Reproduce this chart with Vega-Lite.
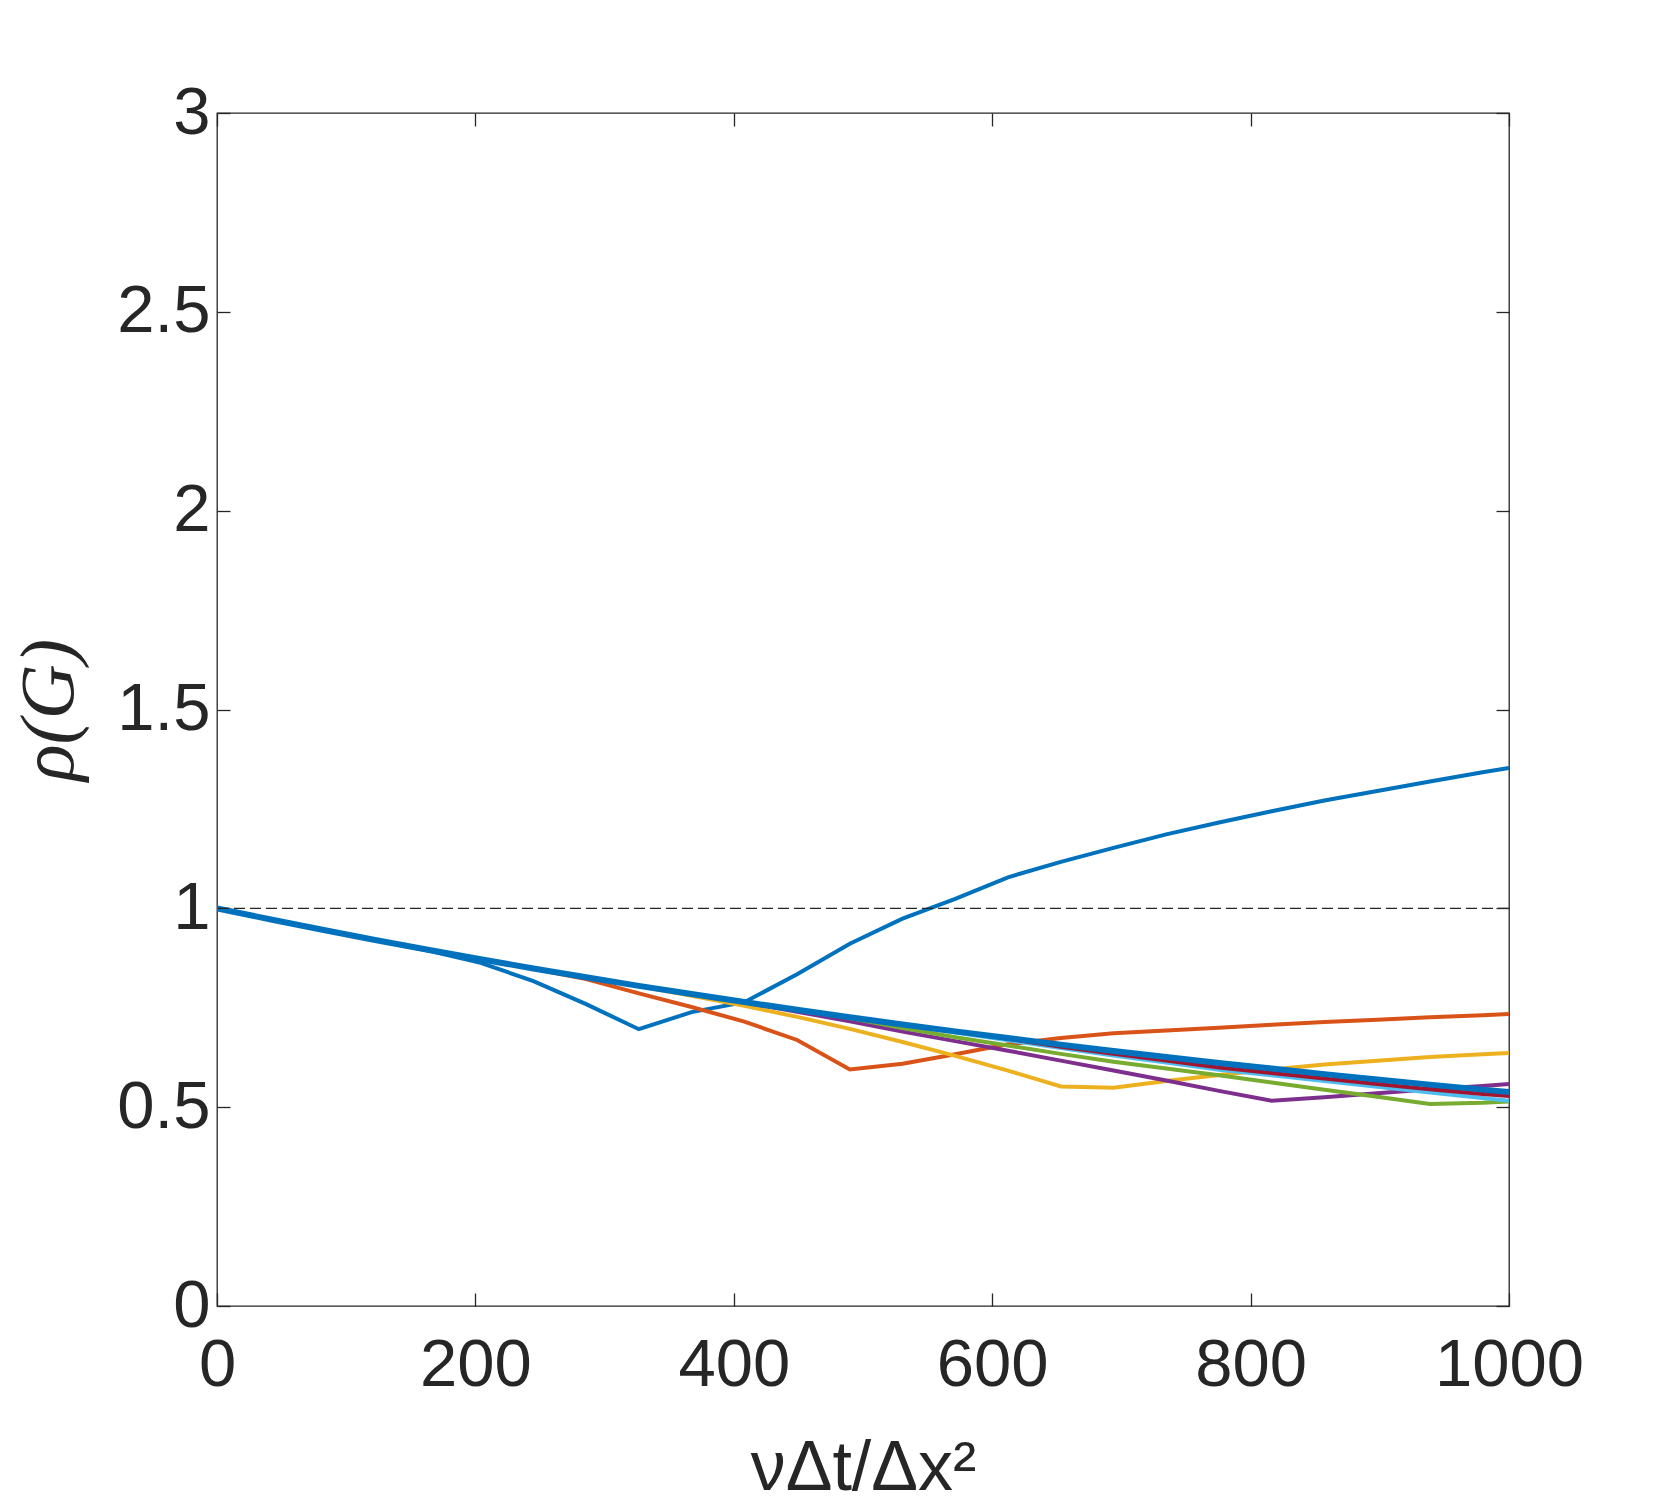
{
  "$schema": "https://vega.github.io/schema/vega-lite/v6.json",
  "autosize": "none",
  "width": 1292,
  "height": 1193,
  "padding": {"left": 217, "top": 113, "right": 158, "bottom": 206},
  "background": "white",
  "data": {
    "values": [
      {"s": "s1", "x": 0, "y": 1}, {"s": "s1", "x": 40.8, "y": 0.9725}, {"s": "s1", "x": 81.6, "y": 0.946}, {"s": "s1", "x": 122.4, "y": 0.9205},
      {"s": "s1", "x": 163.3, "y": 0.894}, {"s": "s1", "x": 204.1, "y": 0.863}, {"s": "s1", "x": 244.9, "y": 0.817}, {"s": "s1", "x": 285.7, "y": 0.759},
      {"s": "s1", "x": 326.5, "y": 0.696}, {"s": "s1", "x": 367.3, "y": 0.739}, {"s": "s1", "x": 408.2, "y": 0.764}, {"s": "s1", "x": 449, "y": 0.834},
      {"s": "s1", "x": 489.8, "y": 0.911}, {"s": "s1", "x": 530.6, "y": 0.974}, {"s": "s1", "x": 571.4, "y": 1.024}, {"s": "s1", "x": 612.2, "y": 1.078},
      {"s": "s1", "x": 653.1, "y": 1.117}, {"s": "s1", "x": 693.9, "y": 1.152}, {"s": "s1", "x": 734.7, "y": 1.186}, {"s": "s1", "x": 775.5, "y": 1.216},
      {"s": "s1", "x": 816.3, "y": 1.244}, {"s": "s1", "x": 857.1, "y": 1.271}, {"s": "s1", "x": 898, "y": 1.295}, {"s": "s1", "x": 938.8, "y": 1.319},
      {"s": "s1", "x": 979.6, "y": 1.342}, {"s": "s1", "x": 1000, "y": 1.353},

      {"s": "s2", "x": 0, "y": 1}, {"s": "s2", "x": 40.8, "y": 0.9725}, {"s": "s2", "x": 81.6, "y": 0.946}, {"s": "s2", "x": 122.4, "y": 0.9205},
      {"s": "s2", "x": 163.3, "y": 0.8957}, {"s": "s2", "x": 204.1, "y": 0.8715}, {"s": "s2", "x": 244.9, "y": 0.848}, {"s": "s2", "x": 285.7, "y": 0.822},
      {"s": "s2", "x": 326.5, "y": 0.786}, {"s": "s2", "x": 367.3, "y": 0.752}, {"s": "s2", "x": 408.2, "y": 0.715}, {"s": "s2", "x": 449, "y": 0.669},
      {"s": "s2", "x": 489.8, "y": 0.595}, {"s": "s2", "x": 530.6, "y": 0.609}, {"s": "s2", "x": 571.4, "y": 0.633}, {"s": "s2", "x": 612.2, "y": 0.658},
      {"s": "s2", "x": 653.1, "y": 0.674}, {"s": "s2", "x": 693.9, "y": 0.686}, {"s": "s2", "x": 734.7, "y": 0.693}, {"s": "s2", "x": 775.5, "y": 0.7},
      {"s": "s2", "x": 816.3, "y": 0.707}, {"s": "s2", "x": 857.1, "y": 0.714}, {"s": "s2", "x": 898, "y": 0.72}, {"s": "s2", "x": 938.8, "y": 0.726},
      {"s": "s2", "x": 979.6, "y": 0.731}, {"s": "s2", "x": 1000, "y": 0.734},

      {"s": "s3", "x": 0, "y": 1}, {"s": "s3", "x": 40.8, "y": 0.9725}, {"s": "s3", "x": 81.6, "y": 0.946}, {"s": "s3", "x": 122.4, "y": 0.9205},
      {"s": "s3", "x": 163.3, "y": 0.8957}, {"s": "s3", "x": 204.1, "y": 0.8719}, {"s": "s3", "x": 244.9, "y": 0.8488}, {"s": "s3", "x": 285.7, "y": 0.8266},
      {"s": "s3", "x": 326.5, "y": 0.8045}, {"s": "s3", "x": 367.3, "y": 0.78}, {"s": "s3", "x": 408.2, "y": 0.755}, {"s": "s3", "x": 449, "y": 0.727},
      {"s": "s3", "x": 489.8, "y": 0.697}, {"s": "s3", "x": 530.6, "y": 0.664}, {"s": "s3", "x": 571.4, "y": 0.629}, {"s": "s3", "x": 612.2, "y": 0.592},
      {"s": "s3", "x": 653.1, "y": 0.552}, {"s": "s3", "x": 693.9, "y": 0.549}, {"s": "s3", "x": 734.7, "y": 0.566}, {"s": "s3", "x": 775.5, "y": 0.581},
      {"s": "s3", "x": 816.3, "y": 0.595}, {"s": "s3", "x": 857.1, "y": 0.607}, {"s": "s3", "x": 898, "y": 0.617}, {"s": "s3", "x": 938.8, "y": 0.626},
      {"s": "s3", "x": 979.6, "y": 0.633}, {"s": "s3", "x": 1000, "y": 0.636},

      {"s": "s4", "x": 0, "y": 1}, {"s": "s4", "x": 40.8, "y": 0.9725}, {"s": "s4", "x": 81.6, "y": 0.946}, {"s": "s4", "x": 122.4, "y": 0.9205},
      {"s": "s4", "x": 163.3, "y": 0.8957}, {"s": "s4", "x": 204.1, "y": 0.8719}, {"s": "s4", "x": 244.9, "y": 0.8488}, {"s": "s4", "x": 285.7, "y": 0.8266},
      {"s": "s4", "x": 326.5, "y": 0.8051}, {"s": "s4", "x": 367.3, "y": 0.7844}, {"s": "s4", "x": 408.2, "y": 0.7635}, {"s": "s4", "x": 449, "y": 0.74},
      {"s": "s4", "x": 489.8, "y": 0.716}, {"s": "s4", "x": 530.6, "y": 0.69}, {"s": "s4", "x": 571.4, "y": 0.666}, {"s": "s4", "x": 612.2, "y": 0.642},
      {"s": "s4", "x": 653.1, "y": 0.617}, {"s": "s4", "x": 693.9, "y": 0.592}, {"s": "s4", "x": 734.7, "y": 0.567}, {"s": "s4", "x": 775.5, "y": 0.541},
      {"s": "s4", "x": 816.3, "y": 0.516}, {"s": "s4", "x": 857.1, "y": 0.525}, {"s": "s4", "x": 898, "y": 0.535}, {"s": "s4", "x": 938.8, "y": 0.545},
      {"s": "s4", "x": 979.6, "y": 0.553}, {"s": "s4", "x": 1000, "y": 0.558},

      {"s": "s5", "x": 0, "y": 1}, {"s": "s5", "x": 40.8, "y": 0.9725}, {"s": "s5", "x": 81.6, "y": 0.946}, {"s": "s5", "x": 122.4, "y": 0.9205},
      {"s": "s5", "x": 163.3, "y": 0.8957}, {"s": "s5", "x": 204.1, "y": 0.8719}, {"s": "s5", "x": 244.9, "y": 0.8488}, {"s": "s5", "x": 285.7, "y": 0.8266},
      {"s": "s5", "x": 326.5, "y": 0.8051}, {"s": "s5", "x": 367.3, "y": 0.7844}, {"s": "s5", "x": 408.2, "y": 0.7643}, {"s": "s5", "x": 449, "y": 0.7445},
      {"s": "s5", "x": 489.8, "y": 0.724}, {"s": "s5", "x": 530.6, "y": 0.699}, {"s": "s5", "x": 571.4, "y": 0.676}, {"s": "s5", "x": 612.2, "y": 0.655},
      {"s": "s5", "x": 653.1, "y": 0.634}, {"s": "s5", "x": 693.9, "y": 0.614}, {"s": "s5", "x": 734.7, "y": 0.597}, {"s": "s5", "x": 775.5, "y": 0.58},
      {"s": "s5", "x": 816.3, "y": 0.562}, {"s": "s5", "x": 857.1, "y": 0.544}, {"s": "s5", "x": 898, "y": 0.526}, {"s": "s5", "x": 938.8, "y": 0.508},
      {"s": "s5", "x": 979.6, "y": 0.511}, {"s": "s5", "x": 1000, "y": 0.514},

      {"s": "s6", "x": 0, "y": 1}, {"s": "s6", "x": 40.8, "y": 0.9725}, {"s": "s6", "x": 81.6, "y": 0.946}, {"s": "s6", "x": 122.4, "y": 0.9205},
      {"s": "s6", "x": 163.3, "y": 0.8957}, {"s": "s6", "x": 204.1, "y": 0.8719}, {"s": "s6", "x": 244.9, "y": 0.8488}, {"s": "s6", "x": 285.7, "y": 0.8266},
      {"s": "s6", "x": 326.5, "y": 0.8051}, {"s": "s6", "x": 367.3, "y": 0.7844}, {"s": "s6", "x": 408.2, "y": 0.7643}, {"s": "s6", "x": 449, "y": 0.7449},
      {"s": "s6", "x": 489.8, "y": 0.7262}, {"s": "s6", "x": 530.6, "y": 0.7075}, {"s": "s6", "x": 571.4, "y": 0.688}, {"s": "s6", "x": 612.2, "y": 0.668},
      {"s": "s6", "x": 653.1, "y": 0.649}, {"s": "s6", "x": 693.9, "y": 0.63}, {"s": "s6", "x": 734.7, "y": 0.612}, {"s": "s6", "x": 775.5, "y": 0.594},
      {"s": "s6", "x": 816.3, "y": 0.58}, {"s": "s6", "x": 857.1, "y": 0.566}, {"s": "s6", "x": 898, "y": 0.551}, {"s": "s6", "x": 938.8, "y": 0.537},
      {"s": "s6", "x": 979.6, "y": 0.523}, {"s": "s6", "x": 1000, "y": 0.516},

      {"s": "s7", "x": 0, "y": 1}, {"s": "s7", "x": 40.8, "y": 0.9725}, {"s": "s7", "x": 81.6, "y": 0.946}, {"s": "s7", "x": 122.4, "y": 0.9205},
      {"s": "s7", "x": 163.3, "y": 0.8957}, {"s": "s7", "x": 204.1, "y": 0.8719}, {"s": "s7", "x": 244.9, "y": 0.8488}, {"s": "s7", "x": 285.7, "y": 0.8266},
      {"s": "s7", "x": 326.5, "y": 0.8051}, {"s": "s7", "x": 367.3, "y": 0.7844}, {"s": "s7", "x": 408.2, "y": 0.7643}, {"s": "s7", "x": 449, "y": 0.7449},
      {"s": "s7", "x": 489.8, "y": 0.7262}, {"s": "s7", "x": 530.6, "y": 0.7081}, {"s": "s7", "x": 571.4, "y": 0.69}, {"s": "s7", "x": 612.2, "y": 0.672},
      {"s": "s7", "x": 653.1, "y": 0.652}, {"s": "s7", "x": 693.9, "y": 0.634}, {"s": "s7", "x": 734.7, "y": 0.617}, {"s": "s7", "x": 775.5, "y": 0.6},
      {"s": "s7", "x": 816.3, "y": 0.586}, {"s": "s7", "x": 857.1, "y": 0.572}, {"s": "s7", "x": 898, "y": 0.558}, {"s": "s7", "x": 938.8, "y": 0.545},
      {"s": "s7", "x": 979.6, "y": 0.533}, {"s": "s7", "x": 1000, "y": 0.528},

      {"s": "s8", "x": 0, "y": 1}, {"s": "s8", "x": 40.8, "y": 0.9725}, {"s": "s8", "x": 81.6, "y": 0.946}, {"s": "s8", "x": 122.4, "y": 0.9205},
      {"s": "s8", "x": 163.3, "y": 0.8957}, {"s": "s8", "x": 204.1, "y": 0.8719}, {"s": "s8", "x": 244.9, "y": 0.8488}, {"s": "s8", "x": 285.7, "y": 0.8266},
      {"s": "s8", "x": 326.5, "y": 0.8051}, {"s": "s8", "x": 367.3, "y": 0.7844}, {"s": "s8", "x": 408.2, "y": 0.7643}, {"s": "s8", "x": 449, "y": 0.7449},
      {"s": "s8", "x": 489.8, "y": 0.7262}, {"s": "s8", "x": 530.6, "y": 0.7081}, {"s": "s8", "x": 571.4, "y": 0.6906}, {"s": "s8", "x": 612.2, "y": 0.6737},
      {"s": "s8", "x": 653.1, "y": 0.6573}, {"s": "s8", "x": 693.9, "y": 0.6414}, {"s": "s8", "x": 734.7, "y": 0.6261}, {"s": "s8", "x": 775.5, "y": 0.6113},
      {"s": "s8", "x": 816.3, "y": 0.597}, {"s": "s8", "x": 857.1, "y": 0.5831}, {"s": "s8", "x": 898, "y": 0.5697}, {"s": "s8", "x": 938.8, "y": 0.5567},
      {"s": "s8", "x": 979.6, "y": 0.5441}, {"s": "s8", "x": 1000, "y": 0.5379}
    ]
  },
  "layer": [
    {
      "transform": [{"filter": "datum.s != 's8'"}],
      "mark": {"type": "line", "strokeWidth": 4, "clip": true},
      "encoding": {
        "x": {
          "field": "x", "type": "quantitative",
          "scale": {"domain": [0, 1000], "nice": false},
          "axis": {"orient": "bottom", "values": [0, 200, 400, 600, 800, 1000], "format": "d", "title": "νΔt/Δx²"}
        },
        "y": {
          "field": "y", "type": "quantitative",
          "scale": {"domain": [0, 3], "nice": false},
          "axis": {"orient": "left", "values": [0, 0.5, 1, 1.5, 2, 2.5, 3], "format": "~g", "title": "ρ(G)"}
        },
        "color": {
          "field": "s", "type": "nominal",
          "scale": {
            "domain": ["s1", "s2", "s3", "s4", "s5", "s6", "s7", "s8"],
            "range": ["#0072BD", "#D95319", "#EDB120", "#7E2F8E", "#77AC30", "#4DBEEE", "#A2142F", "#0072BD"]
          },
          "legend": null
        }
      }
    },
    {
      "transform": [{"filter": "datum.s == 's8'"}],
      "mark": {"type": "line", "strokeWidth": 6, "clip": true},
      "encoding": {
        "x": {
          "field": "x", "type": "quantitative",
          "axis": {"orient": "top", "values": [0, 200, 400, 600, 800, 1000], "labels": false, "title": null}
        },
        "y": {
          "field": "y", "type": "quantitative",
          "axis": {"orient": "right", "values": [0, 0.5, 1, 1.5, 2, 2.5, 3], "labels": false, "title": null}
        },
        "color": {"field": "s", "type": "nominal", "legend": null}
      }
    },
    {
      "data": {"values": [{"ref": 1}]},
      "mark": {"type": "rule", "strokeDash": [11, 5], "strokeWidth": 1.3, "color": "#262626"},
      "encoding": {
        "y": {"field": "ref", "type": "quantitative", "axis": null}
      }
    }
  ],
  "resolve": {"axis": {"x": "independent", "y": "independent"}},
  "config": {
    "view": {"stroke": "#262626", "strokeWidth": 1.3},
    "axis": {
      "grid": false,
      "domain": false,
      "tickSize": -13,
      "tickColor": "#262626",
      "tickWidth": 1.3,
      "labelFont": "Liberation Sans",
      "labelFontSize": 67,
      "labelColor": "#262626",
      "labelFlush": false,
      "labelOverlap": false,
      "titleColor": "#262626",
      "titleFontWeight": "normal"
    },
    "axisX": {"labelPadding": 39, "titleFont": "Liberation Sans", "titleFontSize": 70, "titlePadding": 36},
    "axisY": {"labelPadding": 20, "titleFont": "Liberation Serif", "titleFontStyle": "italic", "titleFontSize": 76, "titlePadding": 28}
  }
}
